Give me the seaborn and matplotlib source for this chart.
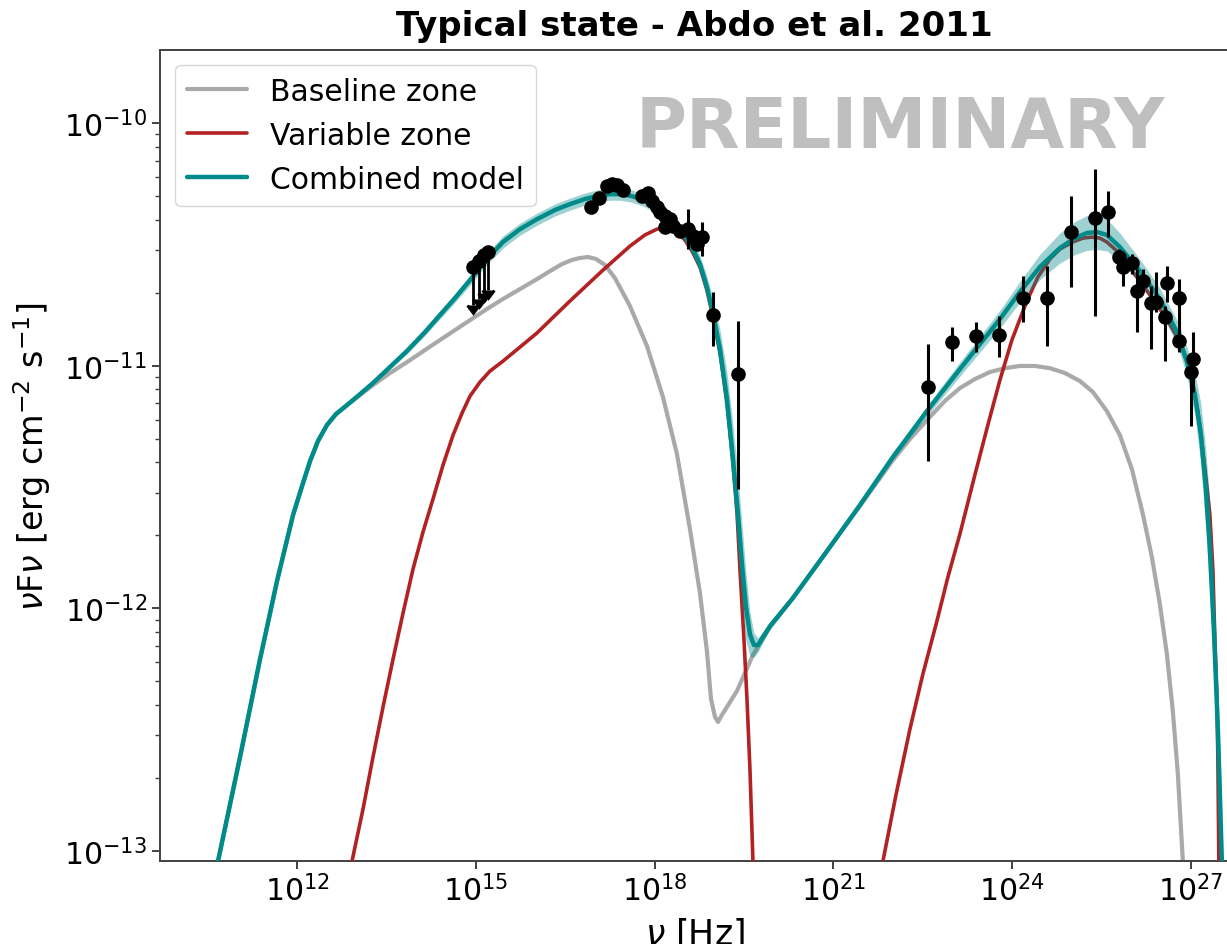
import numpy as np
import matplotlib
matplotlib.use("Agg")
import matplotlib.pyplot as plt
import seaborn as sns

# ---------------------------------------------------------------------------
# Model curves (log10 nu [Hz], log10 nuFnu [erg cm^-2 s^-1])
# ---------------------------------------------------------------------------
combined_lognu = [10.674, 11.044, 11.379, 11.664, 11.933, 12.084, 12.218, 12.352,
                  12.503, 12.654, 12.839, 13.057, 13.275, 13.560, 13.846, 14.148,
                  14.399, 14.651, 14.903, 15.188, 15.456, 15.742, 16.027, 16.329,
                  16.581, 16.832, 17.034, 17.252, 17.420, 17.621, 17.806, 17.973,
                  18.141, 18.309, 18.477, 18.628, 18.762, 18.879, 18.980, 19.098,
                  19.215, 19.316, 19.400, 19.467, 19.534, 19.601, 19.668, 19.735,
                  19.819, 19.937, 20.322, 20.893, 21.447, 22.000, 22.571, 23.125,
                  23.460, 23.796, 24.131, 24.467, 24.803, 25.054, 25.256, 25.423,
                  25.591, 25.809, 26.145, 26.480, 26.766, 26.933, 27.068, 27.168,
                  27.252, 27.319, 27.386, 27.454, 27.521]
combined_logF = [-13.041, -12.612, -12.209, -11.887, -11.615, -11.496, -11.393, -11.310,
                 -11.244, -11.199, -11.162, -11.117, -11.071, -11.005, -10.939, -10.861,
                 -10.791, -10.721, -10.647, -10.560, -10.490, -10.437, -10.396, -10.358,
                 -10.334, -10.313, -10.301, -10.293, -10.293, -10.301, -10.317, -10.338,
                 -10.367, -10.404, -10.453, -10.511, -10.581, -10.676, -10.783, -10.931,
                 -11.137, -11.384, -11.611, -11.817, -11.994, -12.106, -12.151, -12.151,
                 -12.118, -12.073, -11.957, -11.764, -11.574, -11.376, -11.187, -11.014,
                 -10.911, -10.808, -10.696, -10.593, -10.515, -10.474, -10.453, -10.449,
                 -10.461, -10.511, -10.610, -10.725, -10.861, -10.981, -11.117, -11.281,
                 -11.508, -11.755, -12.085, -12.497, -13.041]
# half-width of the model uncertainty band (dex)
combined_band_dex = [0.000, 0.000, 0.000, 0.000, 0.000, 0.000, 0.000, 0.002,
                     0.004, 0.004, 0.004, 0.006, 0.008, 0.010, 0.012, 0.014,
                     0.016, 0.018, 0.021, 0.023, 0.025, 0.025, 0.025, 0.025,
                     0.025, 0.025, 0.025, 0.025, 0.025, 0.025, 0.025, 0.025,
                     0.025, 0.025, 0.025, 0.029, 0.033, 0.045, 0.058, 0.080,
                     0.110, 0.140, 0.160, 0.165, 0.140, 0.090, 0.050, 0.030,
                     0.021, 0.012, 0.008, 0.008, 0.008, 0.012, 0.021, 0.029,
                     0.033, 0.037, 0.043, 0.052, 0.062, 0.068, 0.072, 0.072,
                     0.066, 0.058, 0.049, 0.045, 0.049, 0.060, 0.090, 0.125,
                     0.160, 0.190, 0.206, 0.206, 0.206]

baseline_lognu = [10.674, 11.044, 11.379, 11.664, 11.933, 12.084, 12.218, 12.352,
                  12.503, 12.654, 12.839, 13.057, 13.275, 13.560, 13.846, 14.148,
                  14.399, 14.651, 14.903, 15.188, 15.456, 15.742, 16.027, 16.245,
                  16.446, 16.614, 16.748, 16.883, 17.017, 17.168, 17.336, 17.587,
                  17.873, 18.141, 18.376, 18.594, 18.762, 18.879, 18.947, 19.014,
                  19.064, 19.131, 19.383, 19.651, 19.937, 20.322, 20.893, 21.447,
                  22.000, 22.286, 22.571, 22.873, 23.125, 23.376, 23.628, 23.880,
                  24.131, 24.383, 24.635, 24.886, 25.138, 25.356, 25.591, 25.809,
                  26.011, 26.195, 26.346, 26.480, 26.598, 26.698, 26.782, 26.866]
baseline_logF = [-13.041, -12.612, -12.209, -11.887, -11.615, -11.496, -11.393, -11.310,
                 -11.244, -11.199, -11.162, -11.121, -11.080, -11.030, -10.985, -10.935,
                 -10.894, -10.853, -10.812, -10.766, -10.725, -10.684, -10.643, -10.610,
                 -10.581, -10.564, -10.556, -10.552, -10.560, -10.585, -10.639, -10.754,
                 -10.919, -11.129, -11.364, -11.673, -11.937, -12.176, -12.373, -12.447,
                 -12.468, -12.439, -12.340, -12.192, -12.077, -11.957, -11.764, -11.578,
                 -11.389, -11.302, -11.224, -11.145, -11.092, -11.055, -11.026, -11.010,
                 -11.001, -11.001, -11.010, -11.030, -11.063, -11.108, -11.187, -11.286,
                 -11.426, -11.611, -11.788, -11.982, -12.188, -12.423, -12.682, -13.041]

# variable zone: synchrotron hump and inverse-Compton hump
variable_sync_lognu = [12.923, 13.107, 13.275, 13.443, 13.611, 13.779, 13.946, 14.114,
                       14.282, 14.450, 14.618, 14.769, 14.903, 15.071, 15.238, 15.456,
                       15.742, 16.027, 16.581, 17.134, 17.587, 17.839, 18.040, 18.225,
                       18.376, 18.510, 18.628, 18.762, 18.879, 18.980, 19.098, 19.215,
                       19.316, 19.383, 19.433, 19.500, 19.551, 19.601, 19.651]
variable_sync_logF = [-13.041, -12.827, -12.612, -12.406, -12.209, -12.019, -11.838, -11.685,
                      -11.549, -11.409, -11.286, -11.195, -11.125, -11.067, -11.022, -10.981,
                      -10.923, -10.865, -10.733, -10.606, -10.507, -10.461, -10.437, -10.433,
                      -10.449, -10.482, -10.527, -10.593, -10.688, -10.799, -10.944, -11.150,
                      -11.397, -11.599, -11.838, -12.126, -12.373, -12.662, -13.041]
variable_ic_lognu = [21.833, 22.051, 22.286, 22.504, 22.739, 22.923, 23.125, 23.376,
                     23.594, 23.796, 23.997, 24.249, 24.433, 24.635, 24.803, 25.021,
                     25.188, 25.339, 25.474, 25.591, 25.759, 25.927, 26.145, 26.363,
                     26.598, 26.816, 26.950, 27.034, 27.118, 27.185, 27.252, 27.319,
                     27.370, 27.403, 27.437, 27.454, 27.470]
variable_ic_logF = [-13.041, -12.769, -12.497, -12.270, -12.052, -11.871, -11.693, -11.450,
                    -11.244, -11.059, -10.894, -10.733, -10.635, -10.560, -10.519, -10.490,
                    -10.474, -10.470, -10.474, -10.490, -10.527, -10.581, -10.651, -10.725,
                    -10.808, -10.902, -10.993, -11.084, -11.187, -11.314, -11.459, -11.611,
                    -11.838, -12.126, -12.373, -12.621, -13.041]

# ---------------------------------------------------------------------------
# Observations (log10 values); error bars given as log10 of the bar ends
# ---------------------------------------------------------------------------
uv_ul_lognu = [14.953, 15.050, 15.140, 15.205]
uv_ul_logF = [-10.593, -10.569, -10.544, -10.532]

xray_lognu = [16.93, 17.07, 17.20, 17.29, 17.37, 17.47, 17.79, 17.89, 17.96, 18.04,
              18.09, 18.17, 18.26, 18.17, 18.31, 18.43, 18.56, 18.64, 18.71, 18.80,
              18.98, 19.40]
xray_logF = [-10.346, -10.309, -10.260, -10.251, -10.255, -10.276, -10.301, -10.288,
             -10.321, -10.346, -10.367, -10.383, -10.396, -10.429, -10.424, -10.445,
             -10.437, -10.466, -10.499, -10.470, -10.791, -11.034]
xray_logF_hi = [-10.336, -10.299, -10.250, -10.241, -10.245, -10.266, -10.291, -10.278,
                -10.311, -10.336, -10.357, -10.373, -10.386, -10.419, -10.414, -10.435,
                -10.354, -10.456, -10.489, -10.408, -10.696, -10.816]
xray_logF_lo = [-10.356, -10.319, -10.270, -10.261, -10.265, -10.286, -10.311, -10.298,
                -10.331, -10.356, -10.377, -10.393, -10.406, -10.439, -10.434, -10.455,
                -10.519, -10.476, -10.509, -10.548, -10.919, -11.508]

gamma_lognu = [22.59, 22.99, 23.39, 23.78, 24.18, 24.58, 24.99, 25.39, 25.61, 25.79,
               25.86, 26.01, 26.09, 26.19, 26.33, 26.41, 26.56, 26.60, 26.80, 26.80,
               27.00, 27.03]
gamma_logF = [-11.088, -10.902, -10.878, -10.874, -10.721, -10.721, -10.449, -10.391,
              -10.367, -10.552, -10.593, -10.577, -10.692, -10.651, -10.742, -10.738,
              -10.799, -10.659, -10.721, -10.898, -11.026, -10.972]
gamma_logF_hi = [-10.911, -10.841, -10.820, -10.795, -10.630, -10.589, -10.301, -10.190,
                 -10.280, -10.520, -10.560, -10.540, -10.602, -10.602, -10.672, -10.614,
                 -10.754, -10.589, -10.643, -10.836, -10.972, -10.861]
gamma_logF_lo = [-11.393, -10.981, -10.944, -10.964, -10.820, -10.919, -10.676, -10.795,
                 -10.470, -10.590, -10.672, -10.622, -10.861, -10.696, -10.931, -10.779,
                 -10.981, -10.738, -10.898, -10.944, -11.248, -11.108]

xtick_exponents = [12, 15, 18, 21, 24, 27]


def lin(a):
    return 10.0 ** np.asarray(a, dtype=float)


sns.set_style("ticks")
plt.rcParams["font.family"] = ["DejaVu Sans"]
plt.rcParams["mathtext.fontset"] = "dejavusans"
plt.rcParams["text.color"] = "black"
plt.rcParams["axes.labelcolor"] = "black"
plt.rcParams["xtick.labelcolor"] = "black"
plt.rcParams["ytick.labelcolor"] = "black"

fig = plt.figure(figsize=(12.27, 9.45), dpi=100)
ax = fig.add_axes([0.1304, 0.0878, 0.8712, 0.8582])
ax.set_xscale("log")
ax.set_yscale("log")

C_BASE = "#a9a9a9"
C_VAR = "#b22222"
C_COMB = "#008b8b"

sns.lineplot(x=lin(baseline_lognu), y=lin(baseline_logF), ax=ax, color=C_BASE,
             lw=3.0, estimator=None, sort=False, label="Baseline zone", zorder=2)
sns.lineplot(x=lin(variable_sync_lognu), y=lin(variable_sync_logF), ax=ax, color=C_VAR,
             lw=2.6, estimator=None, sort=False, label="Variable zone", zorder=3)
sns.lineplot(x=lin(variable_ic_lognu), y=lin(variable_ic_logF), ax=ax, color=C_VAR,
             lw=2.6, estimator=None, sort=False, zorder=3)

comb_nu = lin(combined_lognu)
comb_F = np.asarray(combined_logF)
band = np.asarray(combined_band_dex)
ax.fill_between(comb_nu, 10 ** (comb_F - band), 10 ** (comb_F + band),
                color=C_COMB, alpha=0.38, lw=0, zorder=3.5)
sns.lineplot(x=comb_nu, y=lin(combined_logF), ax=ax, color=C_COMB,
             lw=3.2, estimator=None, sort=False, label="Combined model", zorder=4)

# measured fluxes
for nu, F, hi, lo in [(xray_lognu, xray_logF, xray_logF_hi, xray_logF_lo),
                      (gamma_lognu, gamma_logF, gamma_logF_hi, gamma_logF_lo)]:
    y = lin(F)
    ax.errorbar(lin(nu), y, yerr=[y - lin(lo), lin(hi) - y], fmt="o", color="black",
                ms=9.5, elinewidth=2.2, capsize=0, zorder=6)

# upper limits drawn with downward arrows
y_ul = lin(uv_ul_logF)
ax.errorbar(lin(uv_ul_lognu), y_ul, yerr=0.3 * y_ul, uplims=True, fmt="o",
            color="black", ms=9.5, elinewidth=2.0, capsize=4, capthick=2, zorder=6)

ax.text(0.693, 0.905, "PRELIMINARY", transform=ax.transAxes, fontsize=50,
        fontweight="bold", color="#bfbfbf", ha="center", va="center", zorder=1)

ax.set_xlim(10 ** 9.70, 10 ** 27.64)
ax.set_ylim(10 ** -13.041, 10 ** -9.699)
ax.set_xticks([10.0 ** e for e in xtick_exponents])
ax.xaxis.set_minor_locator(matplotlib.ticker.NullLocator())

ax.tick_params(axis="both", which="major", labelsize=21.5, length=6, width=1.4,
               color="0.25")
ax.tick_params(axis="y", which="minor", length=3.5, width=1.0, color="0.25")
for sp in ax.spines.values():
    sp.set_color("0.25")
    sp.set_linewidth(1.4)

ax.set_xlabel(r"$\nu$ [Hz]", fontsize=25, labelpad=6)
ax.set_ylabel(r"$\nu$F$\nu$ [erg cm$^{-2}$ s$^{-1}$]", fontsize=24, labelpad=8)
ax.set_title("Typical state - Abdo et al. 2011", fontsize=24.5, fontweight="bold",
             pad=11, color="black")

leg = ax.legend(loc="upper left", fontsize=21.5, handlelength=2.0, frameon=True)
leg.get_frame().set_edgecolor("0.8")

fig.savefig("out.png", dpi=100)
